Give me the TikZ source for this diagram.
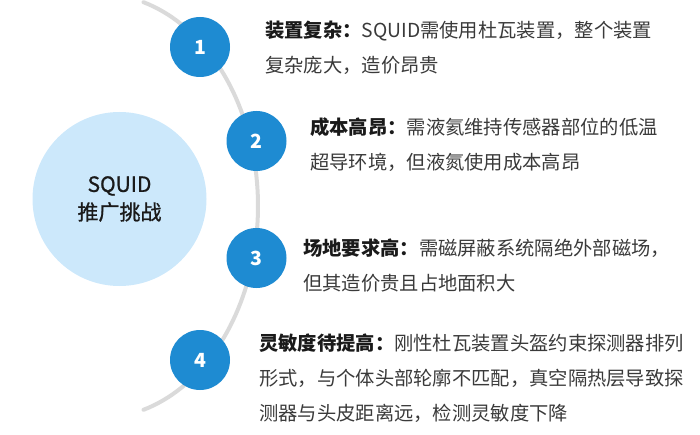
\documentclass[tikz,border=0pt]{standalone}
\usepackage{fontspec}
\setmainfont{Noto Sans CJK SC}
\newfontfamily\corefont{Noto Sans CJK SC}[FakeBold=0.9]
\usetikzlibrary{positioning}
\definecolor{numblue}{HTML}{1E8BD2}
\definecolor{corefill}{HTML}{CCE8FB}
\definecolor{arcgray}{HTML}{DADADA}
\definecolor{bodytext}{HTML}{3A3A3A}
\definecolor{headtext}{HTML}{1A1A1A}

\begin{document}
\begin{tikzpicture}[x=1pt, y=-1pt,
  every node/.style={inner sep=0pt},
  numdot/.style={circle, fill=numblue, minimum size=60pt, text=white,
    font=\fontsize{19.5}{19.5}\selectfont\bfseries},
  infotext/.style={anchor=west, align=left, text=bodytext,
    font=\fontsize{19.3}{35}\selectfont}]
  \useasboundingbox (0,0) rectangle (700,435);

  % Guide arc (behind the points)
  \draw[arcgray, line width=4pt, line cap=round]
    plot[domain=-74:74, samples=80] ({100+158*cos(\x)}, {206+212*sin(\x)});

  % Core circle
  \node[circle, fill=corefill, minimum size=174pt, align=center, text=headtext,
    font=\corefont\fontsize{21}{28}\selectfont] (core) at (119.5,199) {SQUID\\推广挑战};

  % Numbered points
  \node[numdot] (n1) at (200,47) {1};
  \node[numdot] (n2) at (256.5,141) {2};
  \node[numdot] (n3) at (256.5,258) {3};
  \node[numdot] (n4) at (200,360) {4};

  % Challenge texts
  \node[infotext] (t1) at (265,47.75)
    {\textbf{\color{headtext}装置复杂：}SQUID需使用杜瓦装置，整个装置\\复杂庞大，造价昂贵};
  \node[infotext] (t2) at (310,144.5)
    {\textbf{\color{headtext}成本高昂：}需液氦维持传感器部位的低温\\超导环境，但液氮使用成本高昂};
  \node[infotext] (t3) at (303,265.5)
    {\textbf{\color{headtext}场地要求高：}需磁屏蔽系统隔绝外部磁场，\\但其造价贵且占地面积大};
  \node[infotext] (t4) at (259,378)
    {\textbf{\color{headtext}灵敏度待提高：}刚性杜瓦装置头盔约束探测器排列\\形式，与个体头部轮廓不匹配，真空隔热层导致探\\测器与头皮距离远，检测灵敏度下降};

\end{tikzpicture}
\end{document}
